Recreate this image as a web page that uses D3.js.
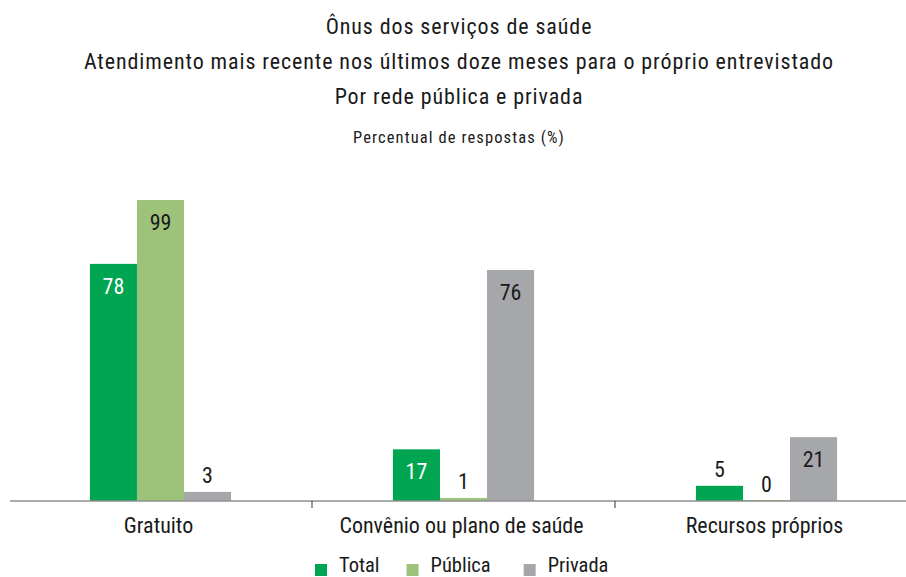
<!DOCTYPE html>
<html><head><meta charset="utf-8">
<script src="https://cdn.jsdelivr.net/npm/d3@7"></script>
<style>
html,body{margin:0;padding:0;background:#fff;}
svg{display:block;}
text{font-family:Roboto,"Liberation Sans",sans-serif;font-stretch:condensed;font-weight:400;fill:#1a1a1a;}
</style></head>
<body>
<svg id="chart" width="906" height="577"></svg>
<script>
const titleLines = ["Ônus dos serviços de saúde",
  "Atendimento mais recente nos últimos doze meses para o próprio entrevistado",
  "Por rede pública e privada"];
const subtitle = "Percentual de respostas (%)";
const categories = ["Gratuito", "Convênio ou plano de saúde", "Recursos próprios"];
const seriesNames = ["Total", "Pública", "Privada"];
const totalValues = [78, 17, 5];
const publicaValues = [99, 1, 0];
const privadaValues = [3, 76, 21];
const seriesColors = ["#00a551", "#9dc27a", "#a6a7ab"];
const labelColors = ["#ffffff", "#1a1a1a", "#1a1a1a"];

const seriesValues = [totalValues, publicaValues, privadaValues];
const data = categories.map((c, i) => ({
  category: c,
  values: seriesNames.map((s, j) => ({series: s, value: seriesValues[j][i], idx: j}))
}));

const svg = d3.select("#chart");
const W = 906;
const baseY = 501;

const x0 = d3.scaleBand().domain(categories).range([9, 918]).paddingInner(0).paddingOuter(0);
const x1 = d3.scaleBand().domain(seriesNames).range([0, x0.bandwidth()]).paddingInner(0).paddingOuter(1.72);
const y = d3.scaleLinear().domain([0, 100]).range([baseY, 197]);
const color = d3.scaleOrdinal().domain(seriesNames).range(seriesColors);

// titles
const cx = 459;
const tg = svg.append("g");
const titleBaselines = [34, 69, 104];
titleLines.forEach((t, i) => {
  tg.append("text").attr("x", cx).attr("y", titleBaselines[i])
    .attr("text-anchor", "middle").attr("font-size", 22)
    .style("letter-spacing", "0.9px").text(t);
});
tg.append("text").attr("x", cx).attr("y", 143).attr("text-anchor", "middle")
  .attr("font-size", 16.5).style("letter-spacing", "1.1px").text(subtitle);

// bars
const groups = svg.append("g").selectAll("g").data(data).join("g")
  .attr("transform", d => `translate(${x0(d.category)},0)`);

groups.selectAll("rect").data(d => d.values).join("rect")
  .attr("x", d => x1(d.series))
  .attr("width", x1.bandwidth())
  .attr("y", d => Math.min(y(d.value), baseY - 1))
  .attr("height", d => Math.max(baseY - y(d.value), 1))
  .attr("fill", d => color(d.series));

groups.selectAll("text").data(d => d.values).join("text")
  .attr("x", d => x1(d.series) + x1.bandwidth() / 2)
  .attr("y", d => d.value >= 10 ? y(d.value) + 30 : y(d.value) - 9)
  .attr("text-anchor", "middle")
  .attr("font-size", 22)
  .style("fill", d => d.value >= 10 ? labelColors[d.idx] : "#1a1a1a")
  .text(d => d.value);

// axis line
svg.append("line").attr("x1", 10).attr("x2", W).attr("y1", baseY).attr("y2", baseY)
  .attr("stroke", "#8f8f8f").attr("stroke-width", 1.5);
// ticks between categories
const boundaries = categories.slice(1).map(c => x0(c));
svg.append("g").selectAll("line").data(boundaries).join("line")
  .attr("x1", d => d).attr("x2", d => d).attr("y1", baseY).attr("y2", baseY + 7)
  .attr("stroke", "#333").attr("stroke-width", 1);

// category labels
svg.append("g").selectAll("text").data(categories).join("text")
  .attr("x", d => x0(d) + x0.bandwidth() / 2 - 2)
  .attr("y", 533)
  .attr("text-anchor", "middle").attr("font-size", 22)
  .text(d => d);

// legend
const lg = svg.append("g");
let lx = 315;
const gaps = [27, 33];
seriesNames.forEach((s, i) => {
  lg.append("rect").attr("x", lx).attr("y", 564).attr("width", 12).attr("height", 12)
    .attr("fill", color(s));
  const t = lg.append("text").attr("x", lx + 24).attr("y", 572).attr("font-size", 20.5).text(s);
  lx = lx + 24 + t.node().getComputedTextLength() + (gaps[i] || 0);
});
</script>
</body></html>
